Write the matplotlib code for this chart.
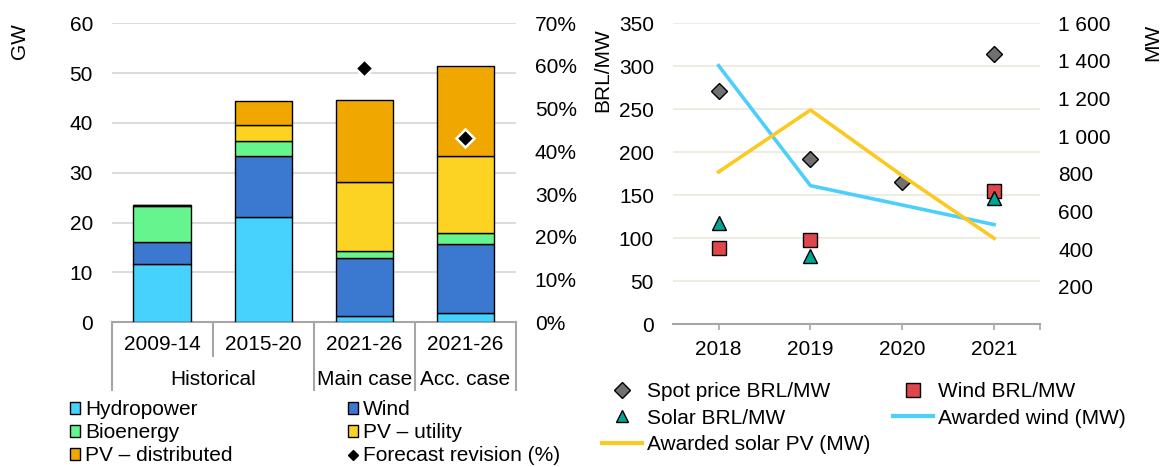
import numpy as np
import matplotlib
matplotlib.use("Agg")
import matplotlib.pyplot as plt
from matplotlib.patches import Patch
from matplotlib.lines import Line2D
from matplotlib.ticker import FuncFormatter

plt.rcParams['font.family'] = ['Liberation Sans', 'DejaVu Sans']
plt.rcParams['font.size'] = 15

# left panel: capacity additions by period (GW) and forecast revision (%)
periods = ['2009-14', '2015-20', '2021-26', '2021-26']
groups = ['Historical', 'Main case', 'Acc. case']
hydro = [11.6, 21.1, 1.3, 1.8]
wind = [4.6, 12.3, 11.6, 13.9]
bio = [7.1, 2.9, 1.5, 2.2]
pv_utility = [0.15, 3.3, 13.8, 15.5]
pv_dist = [0.1, 4.8, 16.4, 18.0]
revision_pct = [np.nan, np.nan, 59.5, 43.2]

# right panel: auction prices and awarded capacity
years = ['2018', '2019', '2020', '2021']
spot_price = [271, 192, 166, 314]
wind_price = [89, 98, np.nan, 155]
solar_price = [118, 79, np.nan, 147]
awarded_wind = [1375, 737, 634, 530]
awarded_solar = [810, 1139, 790, 457]

c_hydro = '#47d2fe'
c_wind = '#3b78d0'
c_bio = '#66f48f'
c_pvu = '#fcd223'
c_pvd = '#f0a800'

fig = plt.figure(figsize=(11.64, 4.67), dpi=100)

# ---------------- left chart ----------------
ax = fig.add_axes([0.0960, 0.3099, 0.3473, 0.6403])
x = np.arange(len(periods))
layers = [(hydro, c_hydro), (wind, c_wind), (bio, c_bio),
          (pv_utility, c_pvu), (pv_dist, c_pvd)]
bottom = np.zeros(len(periods))
for vals, col in layers:
    ax.bar(x, vals, 0.57, bottom=bottom, color=col, edgecolor='black',
           linewidth=1.0, zorder=3)
    bottom += np.array(vals)

ax.set_xlim(-0.5, 3.5)
ax.set_ylim(0, 60)
ax.set_yticks(range(0, 61, 10))
ax.grid(axis='y', color='#d9d9d9', linewidth=1.3, zorder=0)
ax.set_axisbelow(True)
for s in ['left', 'right', 'top']:
    ax.spines[s].set_visible(False)
ax.spines['bottom'].set_color('#a6a6a6')
ax.spines['bottom'].set_linewidth(1.5)
ax.tick_params(axis='y', length=0, pad=13.5)
ax.set_xticks([])

# two-level category labels
tr = ax.get_xaxis_transform()
for i, p in enumerate(periods):
    ax.text(i, -0.074, p, transform=tr, ha='center', va='center')
ax.text(0.5, -0.192, groups[0], transform=tr, ha='center', va='center')
ax.text(2, -0.192, groups[1], transform=tr, ha='center', va='center')
ax.text(3, -0.192, groups[2], transform=tr, ha='center', va='center')
for xs, yb in [(-0.5, -0.226), (0.5, -0.113), (1.5, -0.226),
               (2.5, -0.226), (3.5, -0.226)]:
    ax.add_line(Line2D([xs, xs], [0, yb], transform=tr, color='#a6a6a6',
                       linewidth=1.5, clip_on=False))

ax2 = ax.twinx()
ax2.set_ylim(0, 70)
ax2.set_yticks(range(0, 71, 10))
ax2.yaxis.set_major_formatter(FuncFormatter(lambda v, p: f'{v:.0f}%'))
ax2.tick_params(axis='y', length=0, pad=13.5)
for s in ['left', 'right', 'top', 'bottom']:
    ax2.spines[s].set_visible(False)
ax2.plot(x, revision_pct, linestyle='none', marker='D', markersize=9.5,
         color='black', markeredgecolor='white', markeredgewidth=1.8, zorder=5)

fig.text(20 / 1164, 1 - 41 / 467, 'GW', rotation=90, ha='center', va='center')

left_handles = [
    Patch(facecolor=c_hydro, edgecolor='black', linewidth=1.0),
    Patch(facecolor=c_bio, edgecolor='black', linewidth=1.0),
    Patch(facecolor=c_pvd, edgecolor='black', linewidth=1.0),
    Patch(facecolor=c_wind, edgecolor='black', linewidth=1.0),
    Patch(facecolor=c_pvu, edgecolor='black', linewidth=1.0),
    Line2D([], [], linestyle='none', marker='D', markersize=5, color='black'),
]
left_labels = ['Hydropower', 'Bioenergy', 'PV \u2013 distributed',
               'Wind', 'PV \u2013 utility', 'Forecast revision (%)']
fig.legend(left_handles, left_labels, ncol=2, loc='upper left',
           bbox_to_anchor=(0.060, 0.1435), frameon=False, borderpad=0,
           borderaxespad=0, handlelength=0.5, handleheight=0.5,
           handletextpad=0.25, columnspacing=5.5, labelspacing=0.2)

# ---------------- right chart ----------------
bx = fig.add_axes([0.5779, 0.3056, 0.3156, 0.6445])
xr = np.arange(len(years))
bx.set_xlim(-0.5, 3.5)
bx.set_ylim(0, 350)
bx.set_yticks(range(0, 351, 50))
bx.grid(axis='y', color='#ebebe0', linewidth=1.3, zorder=0)
bx.set_axisbelow(True)
for s in ['left', 'right', 'top']:
    bx.spines[s].set_visible(False)
bx.spines['bottom'].set_color('#a6a6a6')
bx.spines['bottom'].set_linewidth(1.5)
bx.set_xticks(xr)
bx.set_xticklabels(years)
bx.set_xticks([3.5], minor=True)
bx.tick_params(axis='x', which='both', length=4, width=1.2,
               color='#a6a6a6', pad=7)
bx.tick_params(axis='y', length=0, pad=13.5)

bx.plot(xr, spot_price, linestyle='none', marker='D', markersize=8.5,
        color='#707070', markeredgecolor='black', markeredgewidth=1.0)
bx.plot(xr, wind_price, linestyle='none', marker='s', markersize=10,
        color='#e0474c', markeredgecolor='black', markeredgewidth=1.0)
bx.plot(xr, solar_price, linestyle='none', marker='^', markersize=10,
        color='#00a596', markeredgecolor='black', markeredgewidth=1.0)

bx2 = bx.twinx()
bx2.set_ylim(0, 1600)
bx2.set_yticks(range(200, 1601, 200))
bx2.yaxis.set_major_formatter(
    FuncFormatter(lambda v, p: f'{v:,.0f}'.replace(',', ' ')))
bx2.tick_params(axis='y', length=0, pad=13)
for s in ['left', 'right', 'top', 'bottom']:
    bx2.spines[s].set_visible(False)
bx2.plot(xr, awarded_wind, color='#4dcffc', linewidth=2.6)
bx2.plot(xr, awarded_solar, color='#fcc920', linewidth=2.6)

fig.text(603 / 1164, 1 - 70 / 467, 'BRL/MW', rotation=90, ha='center',
         va='center')
fig.text(1153 / 1164, 1 - 42 / 467, 'MW', rotation=90, ha='center',
         va='center')

right_handles = [
    Line2D([], [], linestyle='none', marker='D', markersize=8,
           color='#707070', markeredgecolor='black'),
    Line2D([], [], linestyle='none', marker='^', markersize=9,
           color='#00a596', markeredgecolor='black'),
    Line2D([], [], color='#fcc920', linewidth=3),
    Line2D([], [], linestyle='none', marker='s', markersize=9.5,
           color='#e0474c', markeredgecolor='black'),
    Line2D([], [], color='#4dcffc', linewidth=3),
]
right_labels = ['Spot price BRL/MW', 'Solar BRL/MW', 'Awarded solar PV (MW)',
                'Wind BRL/MW', 'Awarded wind (MW)']
fig.legend(right_handles, right_labels, ncol=2, loc='upper left',
           bbox_to_anchor=(0.517, 0.181), frameon=False, borderpad=0,
           borderaxespad=0, handlelength=1.95, handletextpad=0.2,
           columnspacing=1.1, labelspacing=0.35)

fig.savefig('out.png', dpi=100)
